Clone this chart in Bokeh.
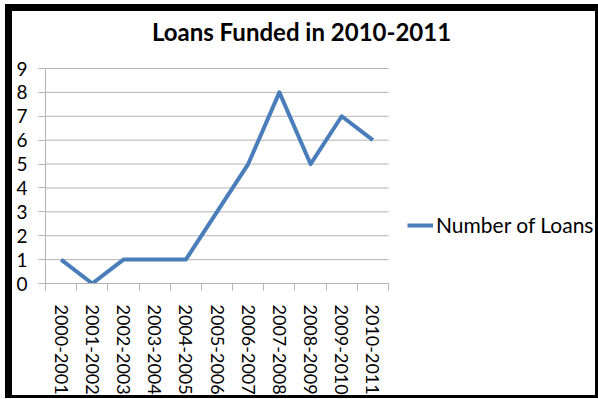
from bokeh.plotting import figure
from bokeh.models import Range1d, FixedTicker, Legend, LegendItem, Label
from bokeh.embed import file_html
from bokeh.resources import INLINE

categories = ["2000-2001", "2001-2002", "2002-2003", "2003-2004", "2004-2005",
              "2005-2006", "2006-2007", "2007-2008", "2008-2009", "2009-2010", "2010-2011"]
loans = [1, 0, 1, 1, 1, 3, 5, 8, 5, 7, 6]
y_ticks = [0, 1, 2, 3, 4, 5, 6, 7, 8, 9]
series_name = "Number of Loans"
title_text = "Loans Funded in 2010-2011"

FONT = "Lato"
GRID = "#b4b4b4"
BLUE = "#4a7ebb"

# layout (pixels)
CANVAS_W, CANVAS_H = 593, 394
LEFT, BOTTOM = 33, 122
DATA_W = 343          # width of the category area
DATA_H = 215          # height of the 0..9 value area
FRAME_W = CANVAS_W - LEFT
FRAME_H = CANVAS_H - BOTTOM
TITLE_CX, TITLE_DY = 256, 37   # title centre: px right of plot-area left, px above plot-area top

n = len(categories)
xs = list(range(n))
x_lo, x_hi = -0.5, n - 0.5
px_x = DATA_W / (x_hi - x_lo)
px_y = DATA_H / 9
x_end = x_lo + FRAME_W / px_x
y_end = FRAME_H / px_y

p = figure(width=CANVAS_W, height=CANVAS_H, output_backend="svg", toolbar_location=None,
           x_range=Range1d(x_lo, x_end), y_range=Range1d(0, y_end),
           min_border_left=LEFT, min_border_right=0, min_border_top=0, min_border_bottom=BOTTOM,
           styles={"margin-left": "5px", "margin-top": "4px",
                   "border-left": "7px solid black", "border-top": "7px solid black",
                   "border-right": "3px solid black", "border-bottom": "3px solid black"})
p.outline_line_color = None
p.background_fill_color = "white"
p.border_fill_color = "white"

# horizontal gridlines across the category area only
p.segment(x0=x_lo, x1=x_hi, y0=y_ticks, y1=y_ticks, line_color=GRID, line_width=1)

r = p.line(xs, loans, line_color=BLUE, line_width=4, line_join="round")

# x axis
p.xaxis.ticker = FixedTicker(ticks=xs, minor_ticks=[i - 0.5 for i in range(n + 1)])
p.xaxis.bounds = (x_lo, x_hi)
p.xaxis.major_label_overrides = {i: c for i, c in enumerate(categories)}
p.xaxis.major_label_orientation = "vertical"
p.xaxis.major_tick_out = 0
p.xaxis.major_tick_in = 0
p.xaxis.minor_tick_out = 7
p.xaxis.minor_tick_in = 0
p.xaxis.minor_tick_line_color = GRID
p.xaxis.axis_line_color = GRID
p.xaxis.major_label_standoff = 14
p.xaxis.major_label_text_font = FONT
p.xaxis.major_label_text_font_size = "18px"
p.xaxis.major_label_text_color = "black"

# y axis
p.yaxis.ticker = FixedTicker(ticks=y_ticks)
p.yaxis.bounds = (0, 9)
p.yaxis.major_tick_out = 7
p.yaxis.major_tick_in = 0
p.yaxis.minor_tick_out = 0
p.yaxis.minor_tick_in = 0
p.yaxis.major_tick_line_color = GRID
p.yaxis.axis_line_color = GRID
p.yaxis.major_label_standoff = 11
p.yaxis.major_label_text_font = FONT
p.yaxis.major_label_text_font_size = "19px"
p.yaxis.major_label_text_color = "black"

p.xgrid.grid_line_color = None
p.ygrid.grid_line_color = None

title = Label(x=x_lo + TITLE_CX / px_x, y=9 + TITLE_DY / px_y, text=title_text,
              text_align="center", text_baseline="middle", text_font=FONT,
              text_font_size="24px", text_font_style="bold", text_color="black")
p.add_layout(title)

legend = Legend(items=[LegendItem(label=series_name, renderers=[r])],
                location=(362, 46), padding=0, margin=0, border_line_color=None,
                background_fill_alpha=0, glyph_width=26, label_standoff=3,
                label_text_font=FONT, label_text_font_size="21px", label_text_color="black")
p.add_layout(legend, "center")

open("out.html", "w").write(file_html(p, INLINE))
